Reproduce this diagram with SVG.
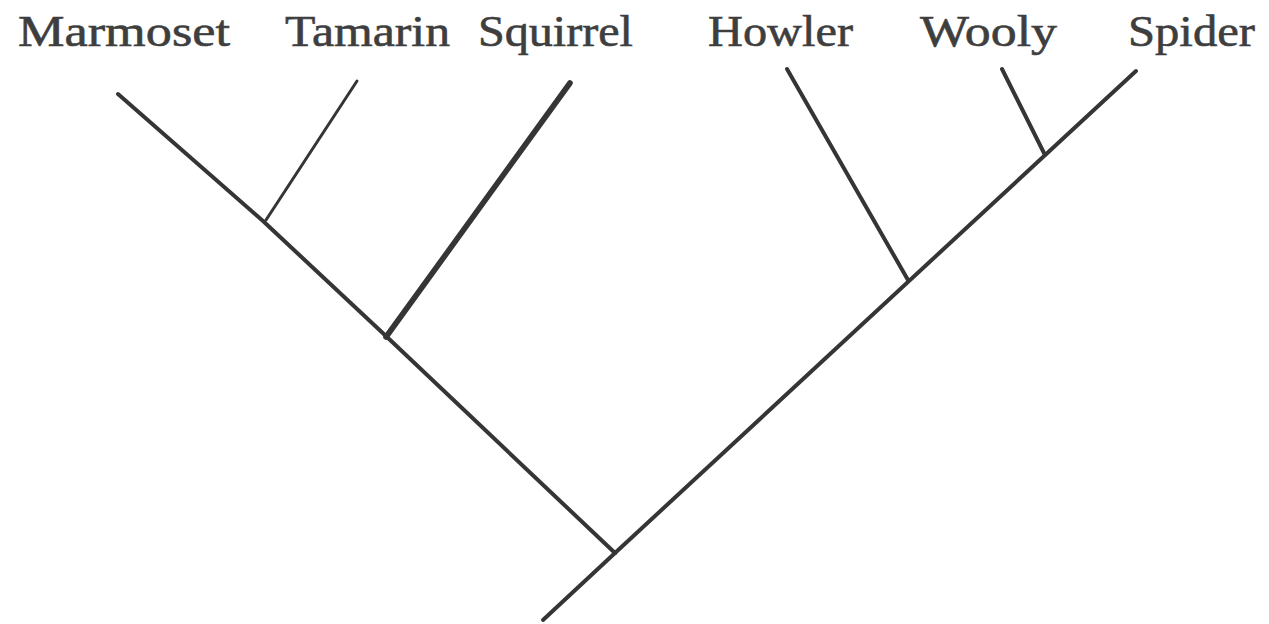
<svg xmlns="http://www.w3.org/2000/svg" width="1269" height="624" viewBox="0 0 1269 624">
<style>
.bg{fill:#ffffff}
.lbl{font-family:"Liberation Serif","Times New Roman",serif;font-size:44px;fill:#3e3e3e;stroke:#3e3e3e;stroke-width:0.6}
.br{fill:none;stroke:#353535;stroke-linecap:round;stroke-linejoin:round}
.main{stroke-width:4}
.thin{stroke-width:3}
.thick{stroke-width:5.6}
</style>
<rect class="bg" x="0" y="0" width="1269" height="624"/>
<g id="connectors">
<polyline class="br main" points="118,94 263,221 387,337 615,553"/>
<line class="br main" x1="543" y1="620" x2="615" y2="553"/>
<line class="br main" x1="615" y1="553" x2="1136" y2="71"/>
<line class="br thin" x1="357" y1="81" x2="266" y2="220"/>
<line class="br thick" x1="570" y1="83" x2="386" y2="337"/>
<line class="br main" x1="787" y1="69" x2="908" y2="280"/>
<line class="br main" x1="1002" y1="69" x2="1044" y2="153"/>
</g>
<g id="node-marmoset"><text class="lbl" x="18" y="46" textLength="212" lengthAdjust="spacingAndGlyphs">Marmoset</text></g>
<g id="node-tamarin"><text class="lbl" x="285" y="46" textLength="165" lengthAdjust="spacingAndGlyphs">Tamarin</text></g>
<g id="node-squirrel"><text class="lbl" x="478" y="46" textLength="155" lengthAdjust="spacingAndGlyphs">Squirrel</text></g>
<g id="node-howler"><text class="lbl" x="708" y="46" textLength="145" lengthAdjust="spacingAndGlyphs">Howler</text></g>
<g id="node-wooly"><text class="lbl" x="920" y="46" textLength="137" lengthAdjust="spacingAndGlyphs">Wooly</text></g>
<g id="node-spider"><text class="lbl" x="1128" y="46" textLength="127" lengthAdjust="spacingAndGlyphs">Spider</text></g>
</svg>
